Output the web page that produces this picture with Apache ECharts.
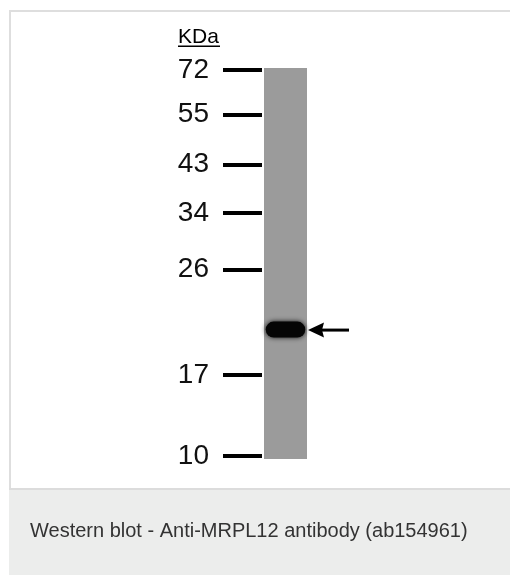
<!DOCTYPE html>
<html>
<head>
<meta charset="utf-8">
<script src="https://cdn.jsdelivr.net/npm/echarts@6/dist/echarts.min.js"></script>
<style>
html,body{margin:0;padding:0;background:#fff;}
#chart{width:510px;height:575px;}
</style>
</head>
<body>
<div id="chart"></div>
<script>
// Molecular weight marker ladder (kDa) and migration position (% of lane length from well)
var markerKDa = ['72', '55', '43', '34', '26', '17', '10'];
var markerPos = [0.5, 11.9, 24.7, 37.1, 51.5, 78.5, 99.2];
// Lanes and detected band
var lanes = ['Lane 1'];
var bandPos = [66.9];       // migration of the MRPL12 band (~20 kDa)
var bandIntensity = [1.0];
var unitLabel = 'KDa';
var caption = 'Western blot - Anti-MRPL12 antibody (ab154961)';

var chart = echarts.init(document.getElementById('chart'), null, {renderer: 'canvas'});
var FONT = '"Liberation Sans", Arial, sans-serif';

var bandData = lanes.map(function (l, i) { return [i, bandPos[i], bandIntensity[i]]; });

chart.setOption({
  animation: false,
  backgroundColor: '#ffffff',
  grid: {
    left: 264, top: 68, width: 43, height: 391,
    show: true, backgroundColor: '#9b9b9b', borderWidth: 0
  },
  xAxis: {
    type: 'category', data: lanes, show: false, boundaryGap: true
  },
  yAxis: {
    type: 'value', min: 0, max: 100, inverse: true, offset: 2,
    axisLine: {show: false},
    splitLine: {show: false},
    axisTick: {
      show: true, customValues: markerPos, length: 39, inside: false,
      lineStyle: {color: '#000', width: 4}
    },
    axisLabel: {
      show: true, customValues: markerPos, margin: 53,
      fontSize: 28, fontFamily: FONT, color: '#111',
      formatter: function (v) {
        var i = markerPos.indexOf(v);
        return i >= 0 ? markerKDa[i] : '';
      }
    }
  },
  graphic: [
    {type: 'rect', shape: {x: 9, y: 10, width: 501, height: 2}, style: {fill: '#dedede'}, silent: true},
    {type: 'rect', shape: {x: 9, y: 10, width: 2, height: 480}, style: {fill: '#dedede'}, silent: true},
    {type: 'rect', shape: {x: 9, y: 488, width: 501, height: 87}, style: {fill: '#ecedec'}, silent: true},
    {type: 'rect', shape: {x: 9, y: 488, width: 501, height: 2}, style: {fill: '#dcdcdc'}, silent: true},
    {type: 'text', x: 30, y: 531, style: {text: caption, fontSize: 20, fontFamily: FONT, fill: '#333', verticalAlign: 'middle'}},
    {type: 'text', x: 178, y: 37, style: {text: unitLabel, fontSize: 21, fontFamily: FONT, fill: '#000', verticalAlign: 'middle'}},
    {type: 'rect', shape: {x: 178, y: 45.5, width: 42, height: 1.5}, style: {fill: '#000'}, silent: true}
  ],
  series: [{
    type: 'custom',
    coordinateSystem: 'cartesian2d',
    data: bandData,
    renderItem: function (params, api) {
      var c = api.coord([api.value(0), api.value(1)]);
      var laneW = api.size([1, 0])[0];
      var bw = laneW * 0.92, bh = 16;
      var tip = c[0] + laneW / 2 + 1;
      var cy = c[1] + 0.5;
      return {
        type: 'group',
        children: [
          {
            type: 'rect',
            shape: {x: c[0] - bw / 2, y: c[1] - bh / 2, width: bw, height: bh, r: 8},
            style: {fill: '#050505', shadowBlur: 5, shadowColor: 'rgba(0,0,0,0.9)'}
          },
          {
            type: 'polygon',
            shape: {points: [[tip, cy], [tip + 16, cy - 7.5], [tip + 14, cy], [tip + 16, cy + 7.5]]},
            style: {fill: '#000'}
          },
          {
            type: 'rect',
            shape: {x: tip + 12, y: cy - 1.5, width: 29, height: 3},
            style: {fill: '#000'}
          }
        ]
      };
    }
  }]
});
</script>
</body>
</html>
